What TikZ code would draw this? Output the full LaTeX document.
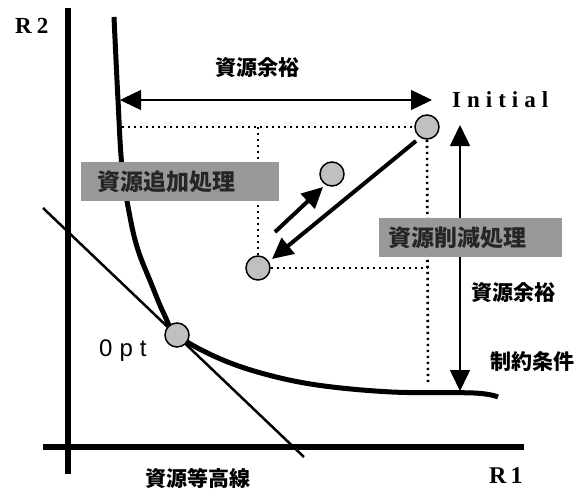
\documentclass[tikz,border=0pt]{standalone}
\usepackage{fontspec}
\setmainfont{Liberation Serif}
\newfontfamily\cjk{Noto Sans CJK JP}
\newfontfamily\optfont{Liberation Sans}
\usetikzlibrary{arrows.meta}
\definecolor{boxgray}{RGB}{153,153,153}
\definecolor{ptgray}{RGB}{192,192,192}
\begin{document}
\begin{tikzpicture}[x=1pt,y=-1pt,
  axis/.style={line width=6pt},
  dots/.style={line width=2.6pt, dash pattern=on 2.4pt off 3.6pt},
  pt/.style={circle, draw, line width=1.5pt, fill=ptgray, minimum size=24pt, inner sep=0pt},
  span/.style={line width=1.5pt, {Triangle[length=21pt,width=20pt]}-{Triangle[length=21pt,width=20pt]}},
  move/.style={line width=4pt, -{Triangle[length=21pt,width=20pt]}},
  lbl/.style={font=\cjk\bfseries\fontsize{21}{21}\selectfont},
  graybox/.style={fill=boxgray, minimum height=39pt, inner ysep=0pt, align=left, anchor=north west,
     text=black!85, font=\cjk\bfseries\fontsize{23}{23}\selectfont},
]
\useasboundingbox (0,0) rectangle (584,490);
\fill[white] (0,0) rectangle (584,490);
% axes
\draw[axis] (68,8) -- (68,474);
\draw[axis] (43,447) -- (524,447);
% tangent (resource contour)
\draw[line width=2.5pt] (43,208) -- (304,457);
% constraint curve
\draw[line width=5pt, line join=round] plot[smooth, tension=0.6] coordinates {
  (114,17) (118,100) (122,167) (130,217) (138,250) (151,283) (164,314) (177,335)
  (216,357) (261,373) (317,385) (392,392) (474,393) (498,397)};
% points
\node[pt] (ini) at (427,127) {};
\node[pt] (mid) at (258,268) {};
\node[pt] (sm) at (332,174) {};
\node[pt] (opt) at (177,335) {};
% dotted guides
\coordinate (d1) at (122,127);
\coordinate (d2) at (258,127);
\coordinate (d3) at (428,268);
\coordinate (d4) at (428,383);
\draw[dots] (d1) -- (ini.west);
\draw[dots] (d2) -- (mid.north);
\draw[dots] (mid.east) -- (d3);
\draw[dots] (ini.south) -- (d4);
% span arrows
\coordinate (h1) at (120,100);
\coordinate (h2) at (432,100);
\draw[span] (h1) -- (h2);
\coordinate (v1) at (460,125);
\coordinate (v2) at (460,391);
\draw[span] (v1) -- (v2);
% movement arrows
\coordinate (m1) at (416,141);
\coordinate (m2) at (272,259);
\draw[move] (m1) -- (m2);
\coordinate (s1) at (275,232);
\coordinate (s2) at (323,187);
\draw[move] (s1) -- (s2);
% gray boxes
\node[graybox, text width=166pt, inner xsep=16pt] (add) at (81,162) {資源追加処理};
\node[graybox, text width=165pt, inner xsep=9pt] (red) at (379,218) {資源削減処理};
% labels
\node[lbl] (topm) at (257,68) {資源余裕};
\node[lbl] (rightm) at (513,293) {資源余裕};
\node[lbl] (cons) at (532,361) {制約条件};
\node[lbl] (cont) at (198,478) {資源等高線};
\node[anchor=base west, inner sep=0pt, font=\bfseries\fontsize{23}{23}\selectfont] (initl) at (452,107)
  {I\hspace{6pt}n\hspace{6pt}i\hspace{6pt}t\hspace{6pt}i\hspace{6pt}a\hspace{6pt}l};
\node[anchor=base west, inner sep=0pt, font=\bfseries\fontsize{23}{23}\selectfont] (r2) at (15,33) {R\hspace{5pt}2};
\node[anchor=base west, inner sep=0pt, font=\bfseries\fontsize{24}{24}\selectfont] (r1) at (489,483) {R\hspace{4pt}1};
\node[anchor=base west, inner sep=0pt, font=\optfont\fontsize{24}{24}\selectfont] (optl) at (99,356) {0\hspace{7pt}p\hspace{7pt}t};
\end{tikzpicture}
\end{document}
